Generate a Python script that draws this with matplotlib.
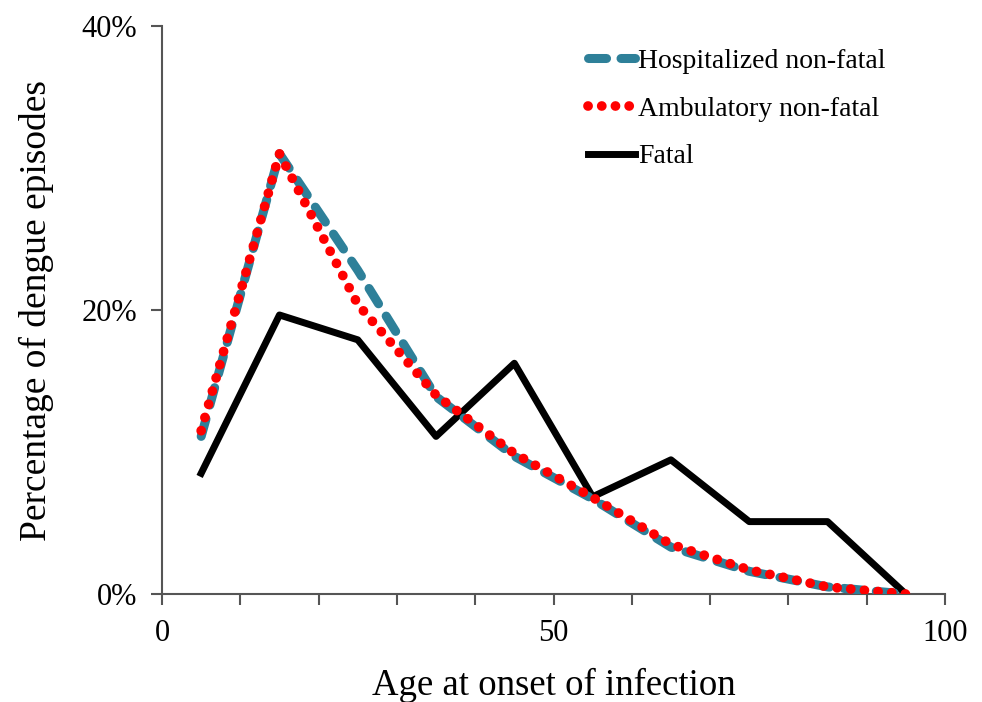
import matplotlib.pyplot as plt
from matplotlib.ticker import MultipleLocator, FuncFormatter

plt.rcParams['font.family'] = ['Liberation Serif', 'DejaVu Serif']

ages = [5, 15, 25, 35, 45, 55, 65, 75, 85, 95]
hospitalized = [11.1, 31.0, 22.8, 13.9, 9.7, 6.7, 3.3, 1.6, 0.5, 0.0]
ambulatory = [11.5, 31.0, 20.4, 14.0, 9.9, 6.8, 3.5, 1.7, 0.5, 0.0]
fatal = [8.5, 19.65, 17.9, 11.1, 16.25, 6.85, 9.45, 5.1, 5.1, 0.0]

fig = plt.figure(figsize=(9.82, 7.02), dpi=100)
ax = fig.add_axes([0.165, 0.1538, 0.7973, 0.8092])

ax.plot(ages, hospitalized, color='#2E8099', lw=6.5, linestyle=(0, (2.0, 1.6)),
        dash_capstyle='round', label='Hospitalized non-fatal', zorder=3)
ax.plot(ages, ambulatory, color='#FF0000', lw=7, linestyle=(0, (0.01, 1.4)),
        dash_capstyle='round', label='Ambulatory non-fatal', zorder=4)
ax.plot(ages, fatal, color='black', lw=5, label='Fatal', zorder=2)

ax.set_xlim(0, 100)
ax.set_ylim(0, 40)
ax.xaxis.set_major_locator(MultipleLocator(50))
ax.xaxis.set_minor_locator(MultipleLocator(10))
ax.yaxis.set_major_locator(MultipleLocator(20))
ax.yaxis.set_major_formatter(FuncFormatter(lambda v, p: f'{v:.0f}%'))

for s in ['top', 'right']:
    ax.spines[s].set_visible(False)
for s in ['left', 'bottom']:
    ax.spines[s].set_color('#555555')
    ax.spines[s].set_linewidth(1.5)

ax.tick_params(which='both', direction='out', length=8, width=1.5, color='#555555',
               labelsize=22, pad=10)
ax.tick_params(axis='y', pad=10)

ax.set_xlabel('Age at onset of infection', fontsize=26.5, labelpad=14)
ax.set_ylabel('Percentage of dengue episodes', fontsize=27, labelpad=20)

ax.legend(loc='upper left', bbox_to_anchor=(0.544, 0.96), frameon=False,
          fontsize=20, handlelength=1.7, handletextpad=0.1, labelspacing=0.8,
          borderpad=0, borderaxespad=0)

fig.savefig('out.png', dpi=100)
